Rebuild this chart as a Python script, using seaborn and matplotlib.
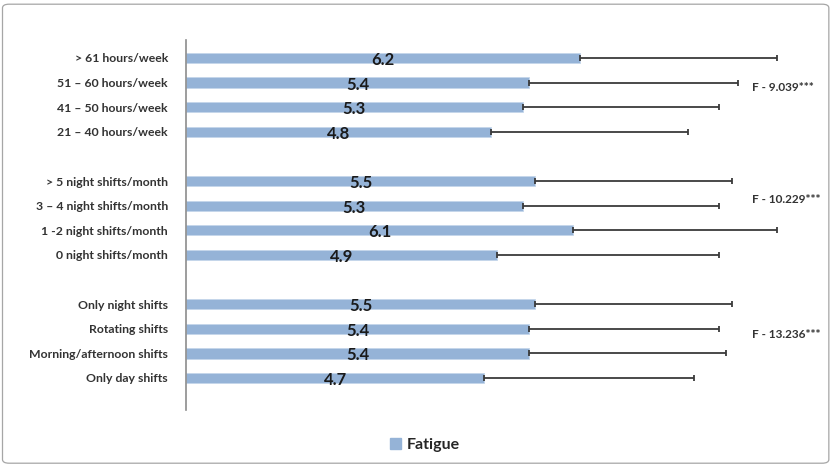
import numpy as np
import pandas as pd
import matplotlib.pyplot as plt
from matplotlib.patches import FancyBboxPatch
import seaborn as sns

sns.set_style("white")
plt.rcParams["font.family"] = ["Lato", "DejaVu Sans"]
plt.rcParams["font.weight"] = "bold"

# rows from top to bottom, blank strings are the gaps between groups
labels = [
    "> 61 hours/week", "51 – 60 hours/week", "41 – 50 hours/week", "21 – 40 hours/week",
    " ",
    "> 5 night shifts/month", "3 – 4 night shifts/month", "1 -2 night shifts/month", "0 night shifts/month",
    "  ",
    "Only night shifts", "Rotating shifts", "Morning/afternoon shifts", "Only day shifts",
]
fatigue = [6.2, 5.4, 5.3, 4.8, np.nan, 5.5, 5.3, 6.1, 4.9, np.nan, 5.5, 5.4, 5.4, 4.7]
sd = [3.1, 3.3, 3.1, 3.1, np.nan, 3.1, 3.1, 3.2, 3.5, np.nan, 3.1, 3.0, 3.1, 3.3]
f_labels = ["F - 9.039***", "F - 10.229***", "F - 13.236***"]
f_rows = [1.2, 5.75, 11.25]

BAR = "#95B3D7"

df = pd.DataFrame({"label": labels, "fatigue": fatigue, "sd": sd})

fig = plt.figure(figsize=(8.33, 4.66), dpi=100)
ax = fig.add_axes([186 / 833, 56 / 466, 614 / 833, 370 / 466])

sns.barplot(data=df, x="fatigue", y="label", order=labels, orient="h",
            color=BAR, width=0.42, saturation=1, errorbar=None, ax=ax,
            edgecolor="#C5D6EA", linewidth=0.6)

pos = np.arange(len(labels))
mask = ~np.isnan(df["fatigue"].values)
ax.errorbar(df["fatigue"][mask], pos[mask],
            xerr=[np.zeros(mask.sum()), df["sd"][mask]],
            fmt="none", ecolor="#3a3a3a", elinewidth=1.3, capsize=2.5, capthick=1.3)

for y, v in zip(pos[mask], df["fatigue"][mask]):
    ax.text(v / 2, y + 0.08, f"{v:.1f}", ha="center", va="center",
            fontsize=12, fontweight=700, color="#1a1a1a")

for txt, y in zip(f_labels, f_rows):
    ax.text(8.91, y, txt, ha="left", va="center", fontsize=8.5,
            fontweight=700, color="#333333")

ax.set_xlim(0, 614 / 63.5)
ax.set_ylim(14.3, -0.73)
ax.set_xlabel("")
ax.set_ylabel("")
ax.set_xticks([])
ax.tick_params(axis="y", length=0, pad=13, labelsize=8.8)
for t in ax.get_yticklabels():
    t.set_fontweight(700)
    t.set_color("#333333")
for s in ["top", "right", "bottom"]:
    ax.spines[s].set_visible(False)
ax.spines["left"].set_color("#8c8c8c")
ax.spines["left"].set_linewidth(1.2)

# legend
handle = plt.Rectangle((0, 0), 1, 1, color=BAR)
fig.legend([handle], ["Fatigue"], loc="center", bbox_to_anchor=(425 / 833, 1 - 445 / 466),
           frameon=False, handlelength=0.7, handleheight=0.7, handletextpad=0.4,
           prop={"family": "Lato", "weight": 700, "size": 11.5})

border = FancyBboxPatch((0.003, 0.006), 0.992, 0.985, boxstyle="round,pad=0,rounding_size=0.008",
                        transform=fig.transFigure, fill=False, edgecolor="#a6a6a6", linewidth=0.9)
fig.patches.append(border)

fig.savefig("out.png", dpi=100)
